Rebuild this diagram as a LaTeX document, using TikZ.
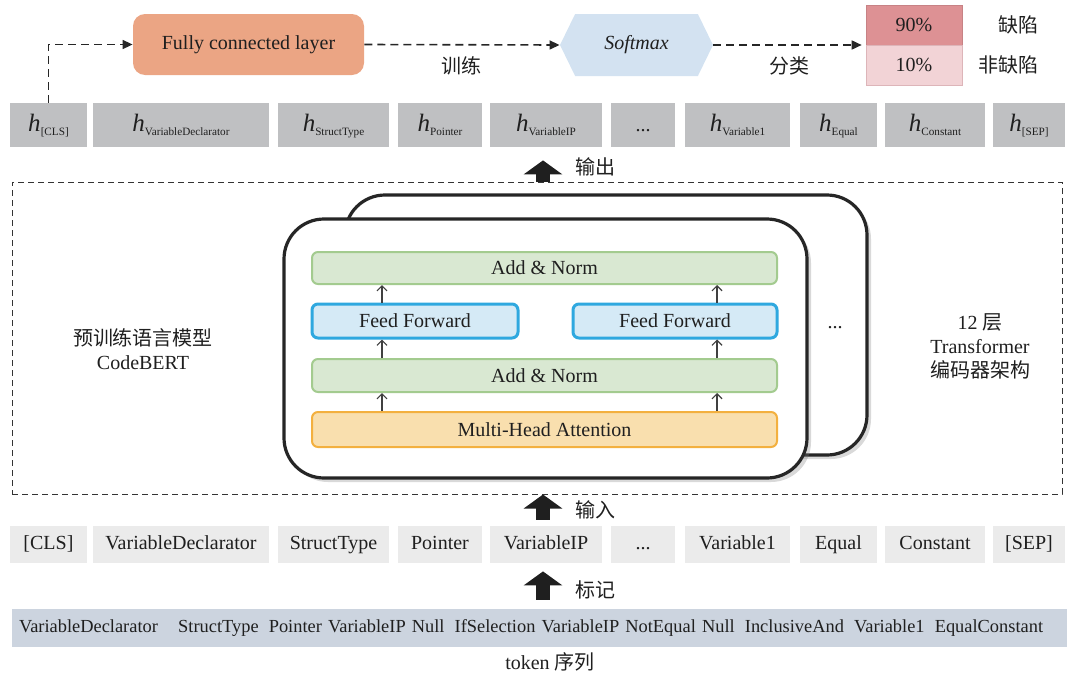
\documentclass[tikz,border=0pt]{standalone}
\usepackage{fontspec}
\setmainfont{Liberation Serif}
\newfontfamily\cjk{Noto Sans CJK SC}
\usetikzlibrary{arrows.meta, positioning, shapes.symbols, shadows}

\definecolor{fcorange}{HTML}{EBA584}
\definecolor{smblue}{HTML}{D3E2F1}
\definecolor{pdark}{HTML}{DD9194}
\definecolor{plight}{HTML}{F2D3D6}
\definecolor{pline}{HTML}{DDB5B9}
\definecolor{hgray}{HTML}{BFC0C2}
\definecolor{tokgray}{HTML}{EBEBEB}
\definecolor{seqblue}{HTML}{CCD4DF}
\definecolor{normfill}{HTML}{D9E8D2}
\definecolor{normline}{HTML}{A3CB8F}
\definecolor{fffill}{HTML}{D5EAF6}
\definecolor{ffline}{HTML}{2FA8DF}
\definecolor{attfill}{HTML}{F9DFAE}
\definecolor{attline}{HTML}{F3B03F}

% h with a small subscript
\newcommand{\hlab}[1]{{\fontsize{12.5}{14}\selectfont\itshape h}\raisebox{-2pt}{\fontsize{5.6}{6}\selectfont #1}}

\begin{document}
\begin{tikzpicture}[x=0.5pt, y=-0.5pt, font=\fontsize{10}{12}\selectfont, text=black!88,
    hbox/.style={fill=hgray, inner sep=0pt, minimum height=22pt, text height=8.5pt, text depth=2.5pt},
    tokbox/.style={fill=tokgray, inner sep=0pt, minimum height=18.5pt, text height=7pt, text depth=2pt},
    layer/.style={draw, rounded corners=3pt, inner sep=0pt, line width=1pt, minimum width=232.5pt},
    normlayer/.style={layer, draw=normline, fill=normfill},
    fflayer/.style={layer, draw=ffline, fill=fffill, line width=1.5pt},
    attlayer/.style={layer, draw=attline, fill=attfill},
    card/.style={draw=black!85, line width=1.6pt, rounded corners=20pt, fill=white, inner sep=0pt,
      drop shadow={opacity=0.3, shadow xshift=2pt, shadow yshift=-2pt}},
    dasharrow/.style={draw=black!85, dash pattern=on 4pt off 2.5pt, line width=0.8pt, -{Triangle[length=5pt,width=4.5pt]}},
    bigarrow/.style={draw=black!88, line width=7pt, -{Triangle[length=7pt,width=19pt]}},
    uparrow/.style={draw=black!75, line width=0.6pt, -{Straight Barb[length=2.5pt,width=5pt]}}]
\useasboundingbox (0,0) rectangle (1067,675);

% output vectors
\foreach \xa/\xb/\tok [count=\i] in {10/87/[CLS], 93/269/VariableDeclarator, 278/389/StructType,
    398/482/Pointer, 490/602/VariableIP, 611/675/{...}, 685/790/Variable1, 800/877/Equal,
    885/985/Constant, 993/1065/[SEP]}
{
  \node[tokbox, minimum width={(\xb-\xa)*0.5pt}] (tok\i) at ({(\xa+\xb)/2},544.5) {\tok};
  \ifnum\i=6
    \node[hbox, minimum width={(\xb-\xa)*0.5pt}] (h\i) at ({(\xa+\xb)/2},125) {...};
  \else
    \node[hbox, minimum width={(\xb-\xa)*0.5pt}] (h\i) at ({(\xa+\xb)/2},125) {\hlab{\tok}};
  \fi
}

% classifier
\node[fill=fcorange, rounded corners=6pt, minimum width=115.5pt, minimum height=30.5pt] (fc) at (248.5,44.5) {Fully connected layer};
\node[signal, signal to=east and west, signal pointer angle=128, fill=smblue, minimum width=76.5pt, minimum height=31pt, inner sep=0pt] (sm) at (636.5,45) {\itshape Softmax};
\node[fill=pdark, draw=pdark!90!black, line width=0.3pt, minimum width=48pt, minimum height=20pt, inner sep=0pt] (p90) at (914,25) {90\%};
\node[fill=plight, draw=pline, line width=0.5pt, minimum width=48pt, minimum height=20pt, inner sep=0pt] (p10) at (914,65) {10\%};
\node[anchor=east] (deflab) at (1046,25) {\cjk 缺陷};
\node[anchor=east] (nodeflab) at (1046,65) {\cjk 非缺陷};

\draw[dasharrow] (h1.north) |- (fc.west);
\draw[dasharrow] (fc.east) -- node[below=2pt] {\cjk 训练} (sm.west);
\draw[dasharrow, shorten >=2pt] (sm.east) -- (sm.east -| p90.west) node[pos=0.5, below=2pt] {\cjk 分类};

% CodeBERT region
\node[draw=black!80, dash pattern=on 3pt off 2pt, line width=0.5pt, minimum width=525pt, minimum height=156pt, inner sep=0pt] (bert) at (537,338) {};
\node[card, minimum width=261pt, minimum height=130pt] (back) at (606,325) {};
\node[card, minimum width=261.5pt, minimum height=129.5pt] (front) at (545.5,348.5) {};

\node[normlayer, minimum height=16pt] (an2) at (544.5,268) {Add \& Norm};
\node[fflayer, minimum width=103pt, minimum height=17pt] (ffl) at (415,321) {Feed Forward};
\node[fflayer, minimum width=102pt, minimum height=17pt] (ffr) at (675,321) {Feed Forward};
\node[normlayer, minimum height=16.5pt] (an1) at (544.5,375.5) {Add \& Norm};
\node[attlayer, minimum height=17.5pt] (mha) at (544.5,429.5) {Multi-Head Attention};

\coordinate (cl) at (382,0);
\coordinate (cr) at (717,0);
\foreach \c in {cl,cr}
{
  \draw[uparrow] (mha.north -| \c) -- (an1.south -| \c);
  \draw[uparrow] (an1.north -| \c) -- (ffl.south -| \c);
  \draw[uparrow] (ffl.north -| \c) -- (an2.south -| \c);
}

\node (more) at (835,328) {...};
\node[align=center] (bertlab) at (143,349) {{\cjk 预训练语言模型}\\CodeBERT};
\node[align=center] (tflab) at (980,346) {12 {\cjk 层}\\Transformer\\{\cjk 编码器架构}};

% token sequence
\node[fill=seqblue, text width=520.5pt, align=left, inner sep=3.5pt, minimum height=19pt, font=\fontsize{9.2}{11}\selectfont] (seq) at (539.5,628)
  {VariableDeclarator\hspace{1.1em}StructType\hspace{0.55em}Pointer VariableIP Null\hspace{0.55em}IfSelection VariableIP NotEqual Null\hspace{0.55em}InclusiveAnd\hspace{0.55em}Variable1\hspace{0.55em}EqualConstant};
\node (seqlab) at (550,662) {token {\cjk 序列}};

% block arrows
\coordinate (axis) at (543,0);
\draw[bigarrow, shorten >=6.5pt] (bert.north -| axis) -- (h5.south -| axis);
\draw[bigarrow, shorten <=3pt] (tok5.north -| axis) -- (bert.south -| axis);
\draw[bigarrow, shorten <=4.5pt, shorten >=4pt] (seq.north -| axis) -- (tok5.south -| axis);
\node[anchor=west] (outlab) at (568,167) {\cjk 输出};
\node[anchor=west] (inlab) at (568,510) {\cjk 输入};
\node[anchor=west] (marklab) at (568,590) {\cjk 标记};
\end{tikzpicture}
\end{document}
